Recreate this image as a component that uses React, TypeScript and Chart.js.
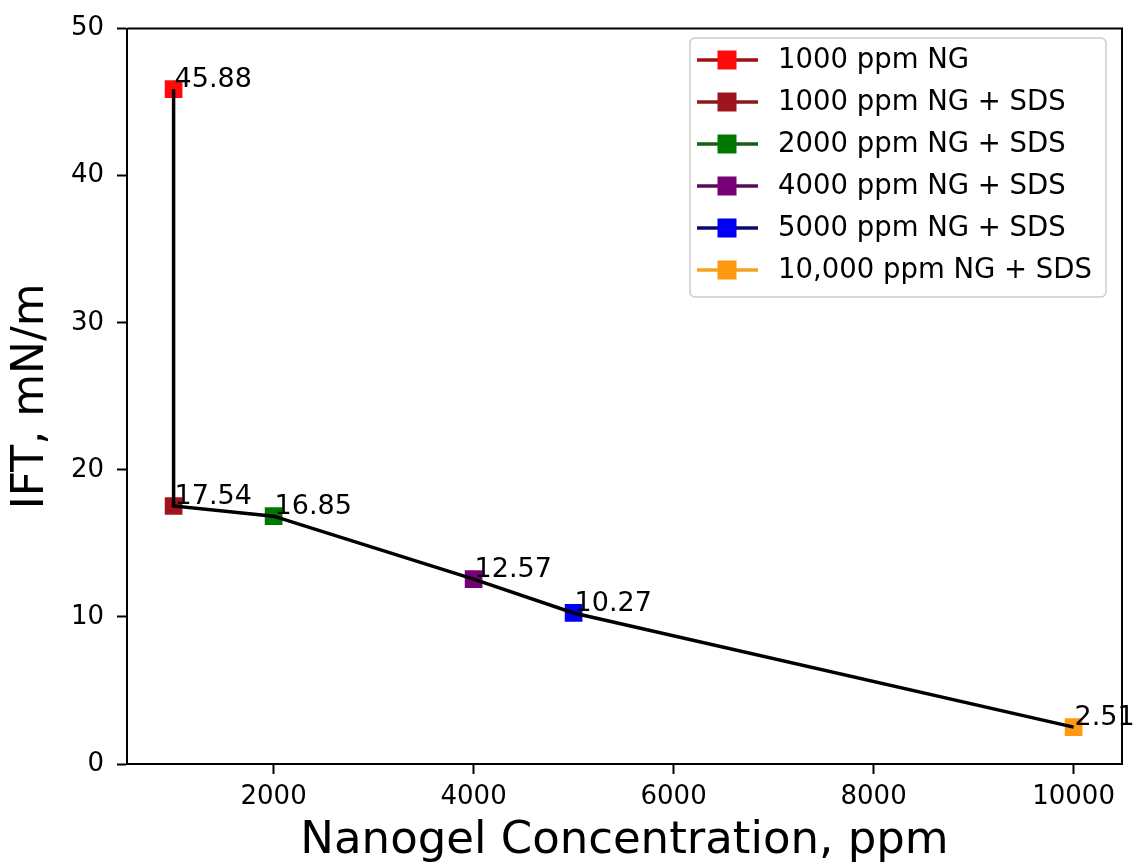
import React, { useEffect, useRef } from "react";
import { Chart, registerables } from "chart.js";

Chart.register(...registerables);

// ---- data ----
const concentrations = [1000, 1000, 2000, 4000, 5000, 10000];
const iftValues = [45.88, 17.54, 16.85, 12.57, 10.27, 2.51];
const seriesLabels = [
  "1000 ppm NG",
  "1000 ppm NG + SDS",
  "2000 ppm NG + SDS",
  "4000 ppm NG + SDS",
  "5000 ppm NG + SDS",
  "10,000 ppm NG + SDS",
];
const xTicks = [2000, 4000, 6000, 8000, 10000];
const yTicks = [0, 10, 20, 30, 40, 50];

// ---- styles ----
const markerColors = ["#ff0a0a", "#a0141e", "#007800", "#760076", "#0000f5", "#ff9a10"];
const legendLineColors = ["#a01010", "#8a1a1a", "#1a5a1a", "#5a0a5a", "#0a0a70", "#f5a020"];
const FONT = "'DejaVu Sans', sans-serif";

export default function App() {
  const ref = useRef<HTMLCanvasElement | null>(null);

  useEffect(() => {
    const canvas = ref.current;
    if (!canvas) return;

    const valueLabels = {
      id: "valueLabels",
      afterDatasetsDraw(chart: any) {
        const { ctx } = chart;
        const xs = chart.scales.x;
        const ys = chart.scales.y;
        ctx.save();
        ctx.font = `27px ${FONT}`;
        ctx.fillStyle = "#000";
        ctx.textAlign = "left";
        ctx.textBaseline = "alphabetic";
        concentrations.forEach((c, i) => {
          ctx.fillText(
            iftValues[i].toFixed(2),
            xs.getPixelForValue(c) + 1,
            ys.getPixelForValue(iftValues[i]) - 2
          );
        });
        ctx.restore();
      },
    };

    const frameAndLegend = {
      id: "frameAndLegend",
      afterDraw(chart: any) {
        const { ctx, chartArea: a } = chart;
        ctx.save();
        ctx.strokeStyle = "#000";
        ctx.lineWidth = 2;
        ctx.beginPath();
        ctx.moveTo(a.left, a.top);
        ctx.lineTo(a.right, a.top);
        ctx.lineTo(a.right, a.bottom);
        ctx.stroke();

        // legend
        const bx = 690, by = 38, bw = 416, bh = 259;
        ctx.fillStyle = "rgba(255,255,255,0.8)";
        ctx.strokeStyle = "#cccccc";
        ctx.lineWidth = 1.5;
        ctx.beginPath();
        (ctx as any).roundRect(bx, by, bw, bh, 5);
        ctx.fill();
        ctx.stroke();

        ctx.font = `27.5px ${FONT}`;
        ctx.textAlign = "left";
        ctx.textBaseline = "middle";
        seriesLabels.forEach((lab, i) => {
          const cy = by + 22 + i * 42;
          ctx.strokeStyle = legendLineColors[i];
          ctx.lineWidth = 3.5;
          ctx.beginPath();
          ctx.moveTo(697, cy);
          ctx.lineTo(758, cy);
          ctx.stroke();
          ctx.fillStyle = markerColors[i];
          ctx.fillRect(727 - 9.5, cy - 9.5, 19, 19);
          ctx.fillStyle = "#000";
          ctx.fillText(lab, 778, cy + 1);
        });
        ctx.restore();
      },
    };

    const markerSets = concentrations.map((c, i) => ({
      label: seriesLabels[i],
      data: [{ x: c, y: iftValues[i] }],
      showLine: false,
      pointStyle: "rect",
      pointRadius: 12.5,
      pointHoverRadius: 12.5,
      pointBackgroundColor: markerColors[i],
      pointBorderColor: markerColors[i],
      pointBorderWidth: 0,
      order: 1,
    }));

    const lineSet = {
      label: "line",
      data: concentrations.map((c, i) => ({ x: c, y: iftValues[i] })),
      showLine: true,
      borderColor: "#000",
      borderWidth: 3.5,
      pointRadius: 0,
      tension: 0,
      order: 0,
    };

    const tickFont = { family: FONT, size: 26 };

    const chart = new Chart(canvas, {
      type: "scatter",
      data: { datasets: [lineSet as any, ...markerSets] },
      plugins: [valueLabels, frameAndLegend],
      options: {
        animation: false,
        responsive: false,
        maintainAspectRatio: false,
        devicePixelRatio: 1,
        layout: { padding: { top: 24, right: 14, left: 0, bottom: 0 } },
        plugins: { legend: { display: false }, tooltip: { enabled: false } },
        scales: {
          x: {
            type: "linear",
            min: 534,
            max: 10484,
            afterBuildTicks: (s: any) => {
              s.ticks = xTicks.map((v) => ({ value: v }));
            },
            afterFit: (s: any) => {
              s.height = 103;
            },
            ticks: {
              font: tickFont,
              color: "#000",
              padding: 8,
              maxRotation: 0,
              autoSkip: false,
              callback: (v: any) => String(v),
            },
            grid: { display: true, drawOnChartArea: false, tickLength: 10, tickWidth: 2, tickColor: "#000" },
            border: { display: true, color: "#000", width: 2 },
            title: {
              display: true,
              text: "Nanogel Concentration, ppm",
              color: "#000",
              font: { family: FONT, size: 45, lineHeight: 1 },
              padding: { top: 0, bottom: 3.5 },
            },
          },
          y: {
            type: "linear",
            min: 0,
            max: 50,
            afterBuildTicks: (s: any) => {
              s.ticks = yTicks.map((v) => ({ value: v }));
            },
            afterFit: (s: any) => {
              s.width = 127;
            },
            ticks: { font: tickFont, color: "#000", padding: 13, autoSkip: false, callback: (v: any) => String(v) },
            grid: { display: true, drawOnChartArea: false, tickLength: 10, tickWidth: 2, tickColor: "#000" },
            border: { display: true, color: "#000", width: 2 },
            title: {
              display: true,
              text: "IFT, mN/m",
              color: "#000",
              font: { family: FONT, size: 44, lineHeight: 1 },
              padding: { top: 9.5, bottom: 0 },
            },
          },
        },
      },
    });

    return () => chart.destroy();
  }, []);

  return (
    <div
      style={{
        position: "fixed",
        left: 0,
        top: 0,
        width: 1136,
        height: 867,
        background: "#fff",
      }}
    >
      <canvas ref={ref} width={1136} height={867} style={{ width: 1136, height: 867, display: "block" }} />
    </div>
  );
}
